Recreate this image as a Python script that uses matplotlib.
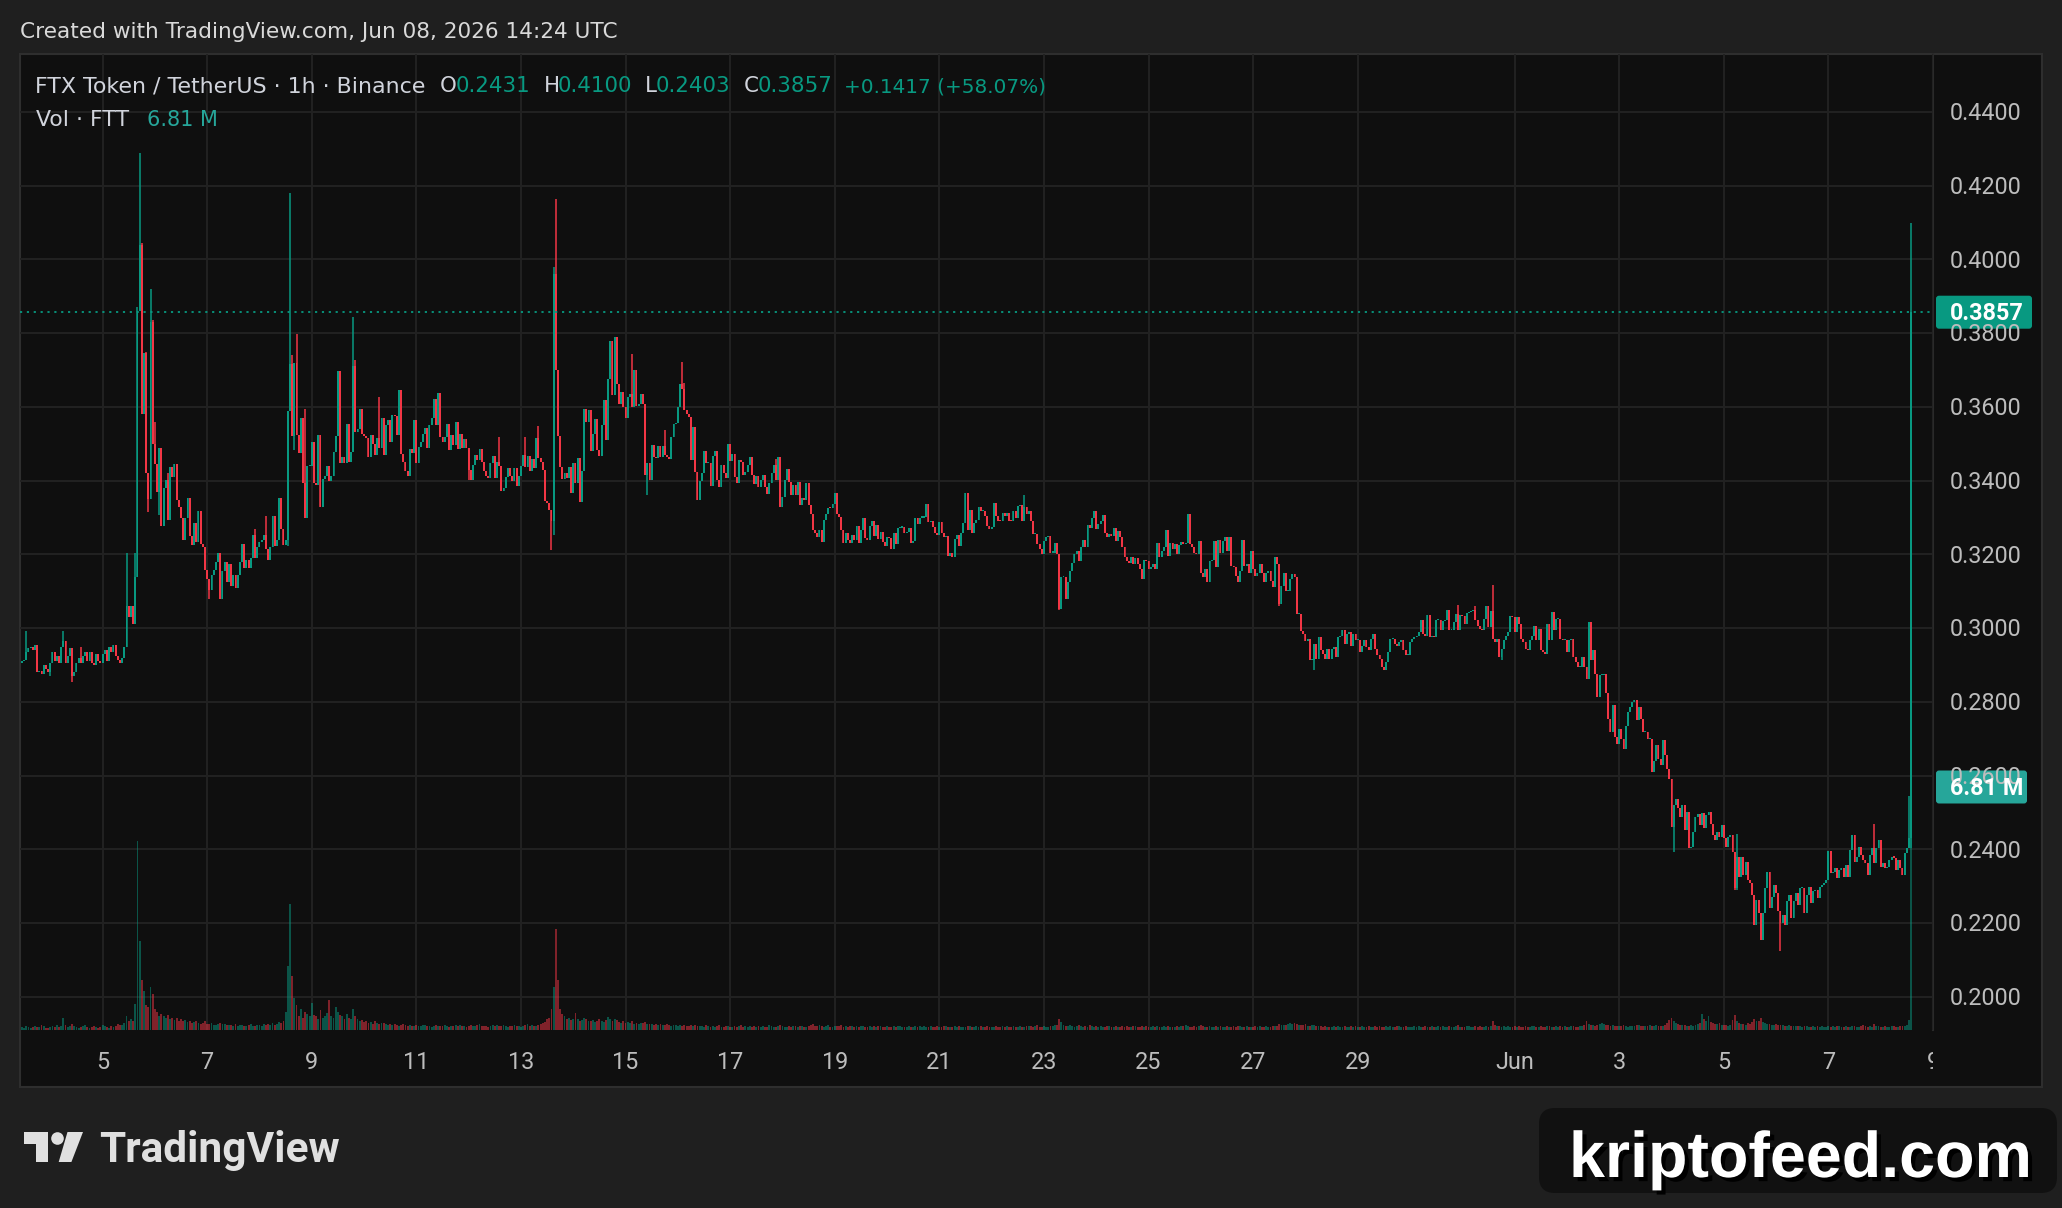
"""FTT/USDT hourly candles with volume overlay, drawn like a TradingView dark snapshot."""

import matplotlib
matplotlib.use("Agg")

import matplotlib.pyplot as plt
import numpy as np
from matplotlib.colors import to_rgba
from matplotlib.patches import Rectangle, FancyBboxPatch, Circle, Polygon
from matplotlib.transforms import Bbox
import matplotlib.patheffects as pe

# hourly bars, first bar 2026-05-03 11:00 UTC, last bar 2026-06-08 14:00 UTC
# prices in units of 0.0001 USDT, every bar opens at the previous close
first_time = "2026-05-03T11:00"
first_open = 2905

closes = [
    # May 3 11:00 ..
    2910, 2915, 2935, 2945, 2950, 2940, 2955, 2880, 2885, 2875,
    2900, 2890, 2880, 2905, 2935, 2910, 2925, 2905, 2950, 2965,
    2905, 2925, 2945, 2870, 2880, 2905, 2920, 2905, 2925, 2935,
    2910, 2935, 2905, 2900, 2930, 2910, 2905, 2930, 2940, 2910,
    2950, 2935, 2955, 2925, 2915, 2905, 2920, 2950, 3060, 3030,
    3060, 3010, 3140, 3860, 4040, 3580, 3745, 3420, 3350, 3830,
    3500, 3445, 3370, 3490, 3276, 3379, 3402, 3294, 3438, 3410,
    3444, 3349, 3329, 3300, 3240, 3300, 3354, 3249, 3226, 3284,
    3234, 3319, 3229, 3219, 3159, 3134, 3104, 3144, 3159, 3179,
    3204, 3080, 3154, 3179, 3124, 3174, 3114, 3144, 3109, 3144,
    3179, 3229, 3164, 3184, 3164, 3189, 3254, 3189, 3219, 3234,
    3239, 3254, 3214, 3184, 3219, 3304, 3224, 3239, 3354, 3269,
    3226, 3240, 3590, 3716, 3520, 3720, 3524, 3474, 3570, 3394,
    3300, 3440, 3440, 3504, 3394, 3389, 3524, 3329, 3404, 3414,
    3439, 3399, 3414, 3479,
    # i = 144
    3520, 3697,
    3447, 3465, 3447, 3553, 3452, 3479, 3710, 3533, 3540, 3594,
    3528, 3520, 3515, 3463, 3524, 3500, 3470, 3517, 3488, 3569,
    3470, 3551, 3564, 3506, 3578, 3575, 3524, 3645, 3472, 3450,
    3425, 3413, 3485, 3474, 3564, 3447, 3492, 3506, 3526, 3543,
    3490, 3551, 3570, 3621, 3551, 3639, 3519, 3506, 3519, 3554,
    3482, 3524, 3497, 3558, 3485, 3528, 3488, 3512, 3488, 3430,
    3402, 3443, 3470, 3456, 3485, 3450, 3425, 3413, 3407, 3447,
    3467, 3407, 3452, 3440, 3371, 3380, 3411, 3434, 3413, 3398,
    3434, 3385, 3413, 3441, 3470, 3438, 3467, 3425, 3459, 3434,
    3515, 3461, 3452, 3429, 3344, 3339, 3320, 3290, 3960, 3700,
    3520, 3436, 3404, 3420, 3407, 3438, 3368, 3447, 3393, 3462,
    3341, 3425, 3594, 3560, 3591, 3481, 3528, 3567, 3483, 3468,
    3551, 3618, 3510, 3676, 3778, 3632, 3790, 3663, 3609, 3640,
    3600, 3569, 3627, 3635, 3600, 3700, 3602, 3609, 3636, 3609,
    3416, 3447, 3402, 3496, 3465, 3461, 3494,
    # i = 293
    3465, 3493, 3469, 3465, 3460, 3519, 3553, 3557, 3601, 3661,
    3650, 3591, 3580, 3573, 3456, 3546, 3424, 3348, 3400, 3420,
    3480, 3447, 3449, 3386, 3466, 3480, 3401, 3383, 3442, 3420,
    3406, 3500, 3453, 3472, 3411, 3394, 3457, 3451, 3415, 3424,
    3442, 3465, 3415, 3392, 3413, 3383, 3401, 3415, 3383, 3365,
    3394, 3422, 3442, 3401, 3465, 3329, 3357, 3402, 3433, 3397,
    3361, 3388, 3361, 3397, 3334, 3352, 3347, 3395, 3334, 3311,
    3266, 3258, 3248, 3266, 3235, 3293, 3311, 3326, 3325, 3338,
    3368, 3311, 3302, 3266, 3230, 3257, 3239, 3230, 3252, 3240,
    3277, 3232, 3265, 3298, 3244, 3240, 3276, 3291, 3250, 3280,
    3241, 3262, 3235, 3223, 3247, 3245, 3214, 3259, 3228, 3271,
    3273, 3275, 3257, 3260, 3273, 3232, 3237, 3298, 3283, 3300,
    3300, 3302, 3338, 3289, 3290, 3275, 3257, 3253, 3289, 3257,
    3248, 3250, 3196, 3205, 3194, 3241, 3253, 3223, 3257, 3284,
    3366, 3266, 3320, 3257, 3284, 3294, 3329,
    # i = 440
    3318, 3318, 3304, 3277, 3268, 3275, 3340, 3304, 3291, 3290,
    3313, 3305, 3313, 3291, 3290, 3318, 3300, 3331, 3335, 3291,
    3330, 3309, 3318, 3291, 3255, 3255, 3228, 3214, 3201, 3237,
    3246, 3250, 3205, 3205, 3232, 3201, 3052, 3138, 3138, 3080,
    3124, 3156, 3178, 3201, 3210, 3183, 3219, 3238, 3219, 3280,
    3273, 3300, 3318, 3268, 3282, 3291, 3307, 3259, 3246, 3255,
    3250, 3273, 3237, 3264, 3246, 3219, 3192, 3182, 3178, 3193,
    3174, 3190, 3174, 3160, 3134, 3185, 3183, 3160, 3165, 3174,
    3160, 3232, 3192, 3210, 3219, 3266, 3196, 3232, 3214, 3228,
    3201, 3226, 3234, 3228, 3232, 3309, 3228, 3219, 3205, 3201,
    3237, 3151, 3138, 3160, 3124, 3183, 3185, 3237, 3165, 3238,
    3205, 3237, 3248, 3210, 3246, 3169, 3165, 3142, 3124, 3156,
    3238, 3169, 3175, 3151, 3210, 3160, 3142, 3150, 3174, 3151,
    3124, 3151, 3155, 3129, 3111, 3192, 3175, 3066, 3115, 3151,
    3101, 3101, 3133, 3147, 3140, 3038, 3038, 2993, 2984, 2966, 2970,
    # i = 591
    2913, 2913, 2958, 2917, 2976, 2940, 2931, 2917, 2944, 2917,
    2944, 2949, 2922, 2976, 2980, 2994, 2958, 2985, 2990, 2953,
    2985, 2967, 2967, 2935, 2953, 2967, 2949, 2940, 2971, 2985,
    2944, 2926, 2917, 2895, 2886, 2908, 2935, 2971, 2971, 2958,
    2953, 2962, 2967, 2940, 2926, 2926, 2962, 2971, 2976, 2980,
    2990, 3023, 2985, 2980, 3036, 2976, 2980, 2976, 3021, 3023,
    2994, 3019, 3021, 3050, 2994, 2994, 3016, 3039, 2994, 3037,
    3034, 3012, 3041, 3043, 3046, 3048, 3021, 3007, 2998, 2994,
    3025, 3061, 3003, 3046, 2971, 2962, 2971, 2922, 2944, 2967,
    2980, 2990, 3034, 3030, 2989, 3030, 3012, 2971, 2962, 2944,
    2940, 2967, 2980, 3005, 2967, 2998, 2940, 2935, 2931, 3012,
    2967, 3043, 2994, 3025, 3025, 2971, 2967, 2967, 2935, 2967,
    2971, 2922, 2908, 2895, 2895, 2922, 2895, 2863, 3016, 2913,
    2940, 2877, 2814, 2872, 2872, 2877, 2823, 2755,
    # i = 729
    2718, 2793, 2705, 2687, 2727, 2700, 2673, 2736, 2772, 2786,
    2799, 2804, 2750, 2786, 2754, 2718, 2718, 2700, 2700, 2610,
    2641, 2682, 2646, 2628, 2696, 2655, 2619, 2592, 2462, 2520,
    2536, 2511, 2488, 2520, 2452, 2502, 2403, 2407, 2448, 2488,
    2497, 2466, 2499, 2457, 2493, 2502, 2470, 2439, 2425, 2448,
    2434, 2466, 2430, 2407, 2434, 2439, 2394, 2295, 2380, 2326,
    2380, 2331, 2367, 2317, 2308, 2277, 2196, 2263, 2227, 2155,
    2227, 2295, 2340, 2241, 2272, 2304, 2281, 2232, 2200, 2223,
    2196, 2259, 2277, 2214, 2259, 2281, 2250, 2295, 2295, 2227,
    2277, 2299, 2254, 2286, 2290, 2268, 2299, 2304, 2308, 2317,
    2396, 2335, 2340, 2349, 2322, 2344, 2349, 2326, 2358, 2326,
    2398, 2439, 2367, 2380, 2407, 2385, 2371, 2362, 2331, 2385,
    2403, 2362, 2403, 2425, 2353, 2362, 2349, 2353, 2371, 2380,
    2378, 2344, 2371, 2349, 2331, 2389, 2403, 2431,
    3857,
]

# bar index -> wick extreme, only where the wick clearly leaves the body
wick_high = {
    2: 2993, 19: 2993, 27: 2950, 48: 3204, 52: 3204, 53: 3870, 54: 4290,
    55: 4046, 57: 3750, 59: 3920, 60: 3837, 61: 3560, 67: 3422, 107: 3269,
    112: 3304, 119: 3339, 123: 4181, 124: 3740, 126: 3799, 129: 3549,
    130: 3594, 137: 3489, 146: 3596, 152: 3845, 153: 3727, 164: 3626,
    174: 3641, 219: 3519, 231: 3519, 237: 3548, 244: 3980, 245: 4164,
    271: 3745, 273: 3780, 280: 3743, 295: 3537, 303: 3723, 304: 3665,
    346: 3460, 446: 3340, 460: 3361, 535: 3309, 560: 3238, 659: 3064,
    667: 3061, 675: 3118, 719: 3016, 787: 2443, 850: 2470, 866: 2545,
    867: 4100,
}
wick_low = {
    13: 2870, 23: 2854, 58: 3314, 63: 3306, 86: 3080, 91: 3078, 122: 3222,
    125: 3484, 205: 3402, 243: 3213, 244: 3253, 287: 3362, 310: 3347,
    476: 3050, 577: 3060, 593: 2886, 679: 2913, 758: 2394, 786: 2290,
    787: 2290, 795: 2196, 798: 2155, 807: 2124, 867: 2403,
}

# volume per bar, thousands of FTT (one row = 24 bars)
volume_k = [
    90, 70, 110, 80, 60, 95, 120, 75, 85, 140, 100, 70, 65, 90, 110, 80, 150, 95, 120, 330, 140, 90, 110, 180,
    120, 90, 70, 85, 100, 130, 75, 60, 90, 110, 80, 70, 95, 140, 100, 85, 70, 110, 90, 120, 160, 130, 150, 200,
    400, 260, 300, 250, 730, 5300, 2500, 1400, 1100, 700, 650, 1200, 1000, 600, 500, 400, 450, 380, 350, 420, 300, 330, 280, 350,
    260, 300, 240, 280, 220, 250, 200, 230, 260, 190, 180, 210, 240, 170, 160, 190, 150, 140, 170, 200, 160, 180, 150, 130,
    140, 120, 160, 110, 130, 150, 120, 100, 140, 180, 120, 110, 150, 130, 120, 170, 140, 160, 130, 200, 150, 180, 220, 190,
    260, 500, 1800, 3540, 1500, 900, 700, 400, 600, 350, 500, 450, 400, 760, 420, 380, 300, 550, 350, 400, 480, 840, 400, 350,
    650, 500, 420, 380, 300, 450, 350, 320, 600, 400, 300, 250, 280, 230, 260, 200, 220, 180, 240, 200, 170, 210, 190, 160,
    150, 180, 140, 160, 130, 120, 150, 170, 140, 110, 130, 120, 100, 140, 120, 110, 150, 130, 120, 100, 90, 110, 130, 120,
    110, 100, 140, 120, 90, 110, 100, 130, 120, 150, 110, 100, 90, 120, 140, 110, 100, 130, 160, 120, 110, 100, 90, 120,
    130, 110, 150, 100, 120, 140, 110, 90, 100, 120, 130, 110, 100, 90, 120, 140, 160, 110, 130, 120, 100, 150, 180, 200,
    220, 300, 350, 600, 1200, 2820, 1400, 600, 450, 380, 300, 350, 280, 320, 470, 300, 250, 280, 350, 300, 260, 240, 280, 220,
    250, 300, 260, 220, 280, 360, 320, 250, 300, 270, 230, 210, 250, 200, 220, 190, 240, 180, 200, 170, 210, 190, 230, 180,
    160, 180, 150, 170, 140, 160, 130, 150, 170, 140, 120, 150, 130, 110, 140, 120, 130, 100, 120, 140, 110, 130, 100, 120,
    110, 90, 130, 100, 80, 120, 95, 105, 140, 90, 85, 110, 100, 75, 95, 120, 90, 110, 130, 85, 100, 95, 115, 90,
    100, 85, 120, 95, 110, 80, 90, 130, 105, 95, 85, 115, 140, 100, 90, 80, 110, 95, 120, 100, 85, 105, 125, 90,
    95, 110, 130, 160, 120, 100, 140, 115, 90, 105, 130, 95, 85, 120, 110, 100, 150, 95, 105, 90, 120, 100, 85, 110,
    90, 100, 120, 85, 95, 110, 80, 105, 90, 120, 100, 85, 95, 110, 75, 90, 105, 85, 100, 115, 90, 80, 95, 105,
    85, 95, 110, 80, 100, 90, 120, 85, 95, 105, 80, 90, 110, 95, 85, 100, 120, 90, 80, 95, 110, 85, 100, 90,
    95, 85, 100, 120, 90, 80, 105, 95, 110, 85, 90, 100, 80, 95, 85, 105, 90, 80, 100, 95, 110, 85, 90, 100,
    80, 95, 105, 90, 85, 100, 110, 120, 95, 100, 130, 90, 85, 100, 95, 80, 110, 120, 140, 150, 300, 220, 150, 120,
    110, 130, 100, 95, 120, 140, 100, 90, 110, 95, 130, 105, 85, 100, 95, 110, 90, 85, 100, 120, 95, 85, 100, 90,
    85, 100, 90, 110, 95, 80, 100, 105, 90, 85, 110, 95, 100, 90, 85, 100, 95, 120, 90, 85, 100, 95, 110, 90,
    95, 85, 100, 90, 110, 120, 140, 100, 90, 85, 100, 95, 110, 130, 100, 90, 85, 100, 95, 90, 110, 85, 100, 95,
    90, 100, 85, 95, 110, 90, 100, 120, 95, 85, 100, 90, 85, 95, 100, 90, 110, 85, 95, 100, 90, 85, 100, 120,
    110, 180, 150, 130, 140, 160, 190, 170, 200, 180, 150, 140, 130, 160, 120, 110, 140, 130, 120, 100, 110, 95, 100, 90,
    85, 95, 100, 90, 110, 85, 95, 100, 90, 85, 100, 95, 110, 90, 85, 100, 95, 90, 100, 85, 95, 110, 90, 100,
    95, 85, 100, 90, 105, 95, 85, 100, 110, 90, 85, 100, 95, 90, 85, 100, 95, 110, 90, 85, 100, 95, 90, 100,
    90, 85, 100, 95, 110, 90, 85, 100, 95, 90, 100, 130, 95, 90, 85, 100, 110, 95, 90, 120, 95, 100, 85, 90,
    100, 95, 110, 250, 150, 120, 100, 95, 110, 90, 100, 95, 85, 100, 90, 110, 95, 85, 100, 90, 95, 100, 110, 90,
    85, 100, 95, 90, 100, 110, 90, 85, 100, 95, 110, 90, 100, 95, 85, 100, 110, 95, 90, 100, 120, 130, 250, 180,
    150, 130, 120, 140, 160, 200, 180, 150, 130, 120, 140, 110, 100, 120, 110, 130, 100, 95, 110, 100, 120, 140, 130, 110,
    120, 100, 110, 130, 100, 120, 140, 110, 100, 120, 150, 200, 280, 350, 260, 200, 180, 150, 140, 130, 120, 110, 130, 120,
    140, 160, 200, 440, 300, 250, 380, 220, 200, 180, 160, 200, 150, 140, 130, 120, 150, 280, 420, 250, 200, 180, 160, 150,
    200, 180, 220, 300, 260, 240, 350, 220, 200, 180, 160, 150, 140, 160, 150, 130, 140, 120, 110, 130, 120, 110, 100, 110,
    100, 90, 110, 100, 95, 85, 100, 90, 110, 95, 100, 90, 85, 100, 95, 110, 90, 100, 120, 95, 90, 100, 85, 95,
    100, 110, 90, 95, 100, 130, 110, 95, 100, 90, 160, 110, 100, 95, 90, 100, 85, 95, 110, 100, 90, 85, 100, 110,
    120, 150, 280, 6810,
]

price_ticks = [0.20, 0.22, 0.24, 0.26, 0.28, 0.30, 0.32, 0.34, 0.36, 0.38, 0.40, 0.42, 0.44]
date_ticks = ["2026-05-05", "2026-05-07", "2026-05-09", "2026-05-11", "2026-05-13",
              "2026-05-15", "2026-05-17", "2026-05-19", "2026-05-21", "2026-05-23",
              "2026-05-25", "2026-05-27", "2026-05-29", "2026-06-01", "2026-06-03",
              "2026-06-05", "2026-06-07", "2026-06-09"]
date_labels = ["5", "7", "9", "11", "13", "15", "17", "19", "21", "23", "25", "27",
               "29", "Jun", "3", "5", "7", "9"]

symbol = "FTX Token / TetherUS · 1h · Binance"
ohlc_letters = ["O", "H", "L", "C"]
ohlc_values = ["0.2431", "0.4100", "0.2403", "0.3857"]
change = "+0.1417 (+58.07%)"
vol_title = "Vol · FTT"
vol_value = "6.81 M"
created = "Created with TradingView.com, Jun 08, 2026 14:24 UTC"
watermark = "kriptofeed.com"

# ---- style / layout (pixels) ----
W, H = 2062, 1208
OUTER = "#1f1f1f"
PANEL = "#0f0f0f"
GRID = "#222222"
UP = "#089981"
DOWN = "#f23645"
VOL_UP = "#26a69a"
TEXT = "#d1d4dc"
SCALE_TXT = "#bdbdbd"
HEAD_FONT = "DejaVu Sans"
PL, PR, PT, PB = 20, 1933, 54, 1030
YMIN, YMAX = 0.19102, 0.45573

c = np.array(closes) / 1e4
o = np.concatenate([[first_open / 1e4], c[:-1]])
top = np.maximum(o, c)
bot = np.minimum(o, c)
hi = top.copy()
lo = bot.copy()
for k, v in wick_high.items():
    hi[k] = max(hi[k], v / 1e4)
for k, v in wick_low.items():
    lo[k] = min(lo[k], v / 1e4)
rising = c >= o
x = np.arange(len(c))
vol = np.array(volume_k, dtype=float)

start = np.datetime64(first_time)
tick_x = [(np.datetime64(d + "T00:00") - start) / np.timedelta64(1, "h") for d in date_ticks]
XMIN, XMAX = -0.9, tick_x[-1]

fig = plt.figure(figsize=(W / 100, H / 100), dpi=100, facecolor=OUTER)


def px_axes(z):
    a = fig.add_axes([0, 0, 1, 1], zorder=z)
    a.set_xlim(0, W)
    a.set_ylim(H, 0)
    a.axis("off")
    return a


def chart_axes(z, ylim):
    a = fig.add_axes([PL / W, 1 - PB / H, (PR - PL) / W, (PB - PT) / H], zorder=z)
    a.set_xlim(XMIN, XMAX)
    a.set_ylim(*ylim)
    a.patch.set_visible(False)
    a.set_xticks([])
    a.set_yticks([])
    for s in a.spines.values():
        s.set_visible(False)
    return a


bg = px_axes(-5)
bg.add_patch(Rectangle((20, 54), 2022, 1033, facecolor=PANEL, edgecolor="#2e2e2e", lw=1.5))
bg.plot([PR, PR], [PT, PB], color="#2a2a2a", lw=1.5)

axg = chart_axes(1, (YMIN, YMAX))
axg.hlines(price_ticks, XMIN, XMAX, colors=GRID, lw=1.4)
axg.vlines(tick_x, YMIN, YMAX, colors=GRID, lw=1.4)

# volume overlay: the last bar's volume sits at y = 787 px
vmax = vol[-1] / ((PB - 787) / (PB - PT))
axv = chart_axes(2, (0, vmax))
vcol = [to_rgba(UP, 0.5) if r else to_rgba(DOWN, 0.5) for r in rising]
axv.bar(x, vol, width=0.85, color=vcol, linewidth=0)

ax = chart_axes(3, (YMIN, YMAX))
ccol = np.where(rising, UP, DOWN)
ax.vlines(x, lo, hi, colors=ccol, lw=1.1)
ax.bar(x, np.maximum(top - bot, 0.0003), bottom=bot, width=0.85, color=ccol, linewidth=0)
ax.axhline(c[-1], color=UP, lw=1.3, ls=(0, (1.2, 2.6)))

ov = px_axes(10)


def py(p):
    return PB - (p - YMIN) / (YMAX - YMIN) * (PB - PT)


for p in price_ticks:
    ov.text(1950, py(p) + 8.2, f"{p:.4f}", color=SCALE_TXT, fontsize=16.8,
            family="Roboto", va="baseline", ha="left")

# last price tag and volume tag
yp = py(c[-1])
ov.add_patch(FancyBboxPatch((1936, yp - 16.5), 96, 33, boxstyle="round,pad=0,rounding_size=3",
                            facecolor=UP, edgecolor="none"))
ov.text(1950, yp + 8.2, f"{c[-1]:.4f}", color="white", fontsize=16.8, family="Roboto",
        weight="bold", va="baseline")
yv = PB - vol[-1] / vmax * (PB - PT)
ov.add_patch(FancyBboxPatch((1936, yv - 16.5), 91, 33, boxstyle="round,pad=0,rounding_size=3",
                            facecolor=VOL_UP, edgecolor="none"))
ov.text(1950, yv + 8.2, vol_value, color="white", fontsize=16.8, family="Roboto",
        weight="bold", va="baseline")

# time scale labels, clipped at the price scale edge (display box, origin bottom-left)
time_clip = Bbox.from_extents(PL, H - 1087, PR, H - PB)
for tx, lab in zip(tick_x, date_labels):
    xp = PL + (tx - XMIN) / (XMAX - XMIN) * (PR - PL)
    t = ov.text(xp, 1069, lab, color=SCALE_TXT, fontsize=16.8, family="Roboto",
                ha="center", va="baseline")
    t.set_clip_box(time_clip)
    t.set_clip_on(True)

# header
ov.text(20, 37.5, created, color="#d9d9d9", fontsize=15.6, family=HEAD_FONT, va="baseline")
ov.text(35, 92.5, symbol, color=TEXT, fontsize=15.9, family=HEAD_FONT, va="baseline")
for xl, xv, letter, val in zip([440, 544, 645, 744], [456, 558, 656, 758], ohlc_letters, ohlc_values):
    ov.text(xl, 92.5, letter, color=TEXT, fontsize=15.4, family=HEAD_FONT, va="baseline")
    ov.text(xv, 92.5, val, color=UP, fontsize=15.4, family=HEAD_FONT, va="baseline")
ov.text(844, 92.5, change, color=UP, fontsize=14.4, family=HEAD_FONT, va="baseline")
ov.text(36, 126, vol_title, color=TEXT, fontsize=15.8, family=HEAD_FONT, va="baseline")
ov.text(147, 126, vol_value, color=VOL_UP, fontsize=15.0, family=HEAD_FONT, va="baseline")

# TradingView logo
logo = "#e0e0e0"
ov.add_patch(Rectangle((24, 1132), 24, 12, facecolor=logo, edgecolor="none"))
ov.add_patch(Rectangle((36, 1132), 12, 30, facecolor=logo, edgecolor="none"))
ov.add_patch(Circle((57.5, 1138.5), 6.3, facecolor=logo, edgecolor="none"))
ov.add_patch(Polygon([(67.5, 1132), (83, 1132), (71.4, 1162), (58.7, 1162)],
                     facecolor=logo, edgecolor="none"))
ov.text(99, 1162, "TradingView", color=logo, fontsize=30.5, family="Roboto",
        weight="bold", va="baseline")

# watermark
ov.add_patch(FancyBboxPatch((1539, 1108), 518, 85, boxstyle="round,pad=0,rounding_size=16",
                            facecolor="#111111", edgecolor="none"))
ov.text(1569, 1177, watermark, color="white", fontsize=46.5, family="Liberation Sans",
        weight="bold", va="baseline",
        path_effects=[pe.withSimplePatchShadow(offset=(3, -3), shadow_rgbFace="black", alpha=1.0)])

fig.savefig("out.png", dpi=100, facecolor=OUTER)
